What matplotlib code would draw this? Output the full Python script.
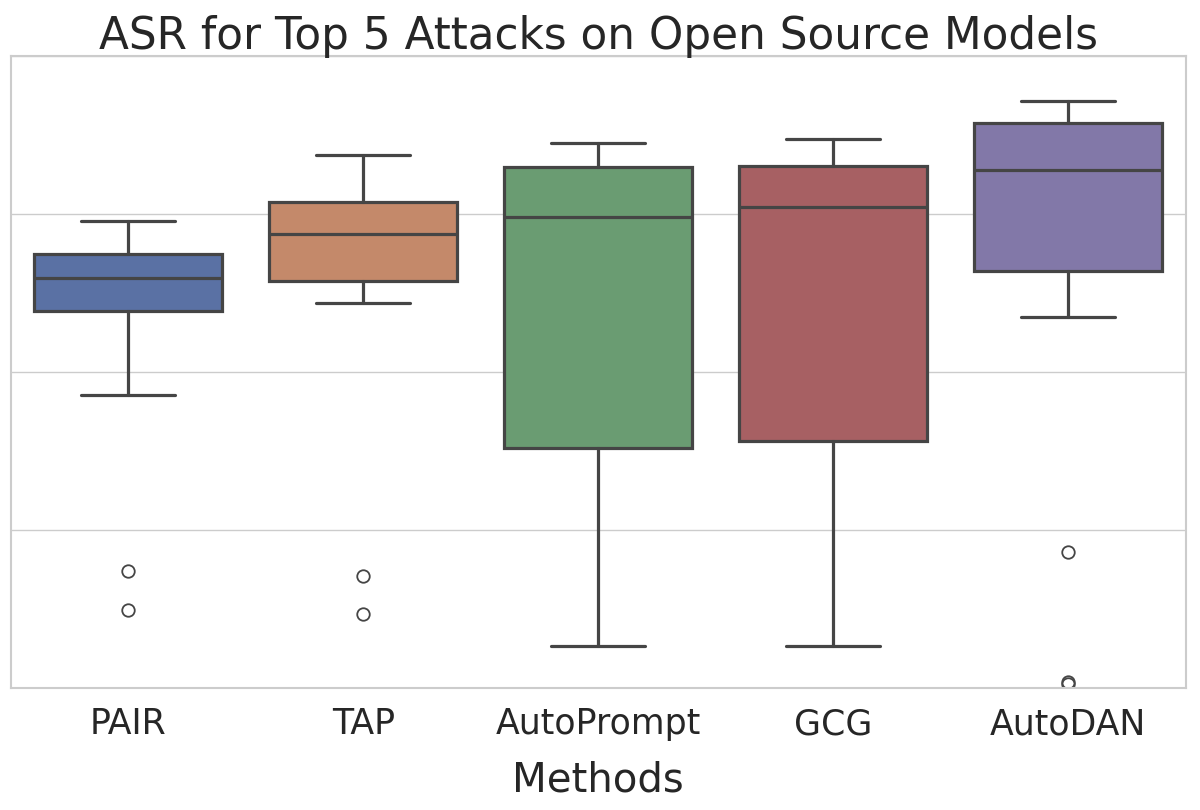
import matplotlib
matplotlib.use("Agg")
import matplotlib.pyplot as plt
import seaborn as sns

sns.set_theme(style="whitegrid")
plt.rcParams['font.family'] = ['DejaVu Sans']

methods = ["PAIR", "TAP", "AutoPrompt", "GCG", "AutoDAN"]
whislo = [0.464, 0.609, 0.066, 0.066, 0.587]
q1 = [0.597, 0.644, 0.380, 0.391, 0.660]
med = [0.649, 0.718, 0.745, 0.761, 0.820]
q3 = [0.687, 0.769, 0.824, 0.826, 0.894]
whishi = [0.739, 0.843, 0.862, 0.869, 0.929]
fliers = [[0.185, 0.123], [0.176, 0.117], [], [], [0.214, 0.009, 0.006]]

palette = ["#5a71a4", "#c4896a", "#6a9c72", "#a76063", "#8278a8"]
line_c = "#454545"

fig = plt.figure(figsize=(12, 8.1), dpi=100)
ax = fig.add_axes([0.009, 0.151, 0.979, 0.780])

stats = []
for i, m in enumerate(methods):
    stats.append(dict(label=m, whislo=whislo[i], q1=q1[i], med=med[i],
                      q3=q3[i], whishi=whishi[i], fliers=fliers[i]))

bp = ax.bxp(stats, positions=range(len(methods)), widths=0.8, patch_artist=True,
            boxprops=dict(linewidth=2.3, edgecolor=line_c),
            medianprops=dict(color=line_c, linewidth=2.3),
            whiskerprops=dict(color=line_c, linewidth=2.3),
            capprops=dict(color=line_c, linewidth=2.3),
            flierprops=dict(marker='o', markerfacecolor='none', markeredgecolor=line_c,
                            markersize=9, markeredgewidth=1.3))
for patch, c in zip(bp['boxes'], palette):
    patch.set_facecolor(c)

ax.set_xlim(-0.5, 4.5)
ax.set_ylim(0, 1)
ax.set_yticks([0, 0.25, 0.5, 0.75, 1.0])
ax.set_yticklabels([])
ax.tick_params(axis='y', length=0)
ax.set_xticks(range(len(methods)))
ax.set_xticklabels(methods, fontsize=25)
ax.tick_params(axis='x', pad=8)
ax.xaxis.grid(False)
ax.set_xlabel("Methods", fontsize=29, labelpad=14)
ax.set_title("ASR for Top 5 Attacks on Open Source Models", fontsize=31.5, pad=5)
for s in ax.spines.values():
    s.set_color("#cccccc")
    s.set_linewidth(1.5)

fig.savefig("out.png", dpi=100)
